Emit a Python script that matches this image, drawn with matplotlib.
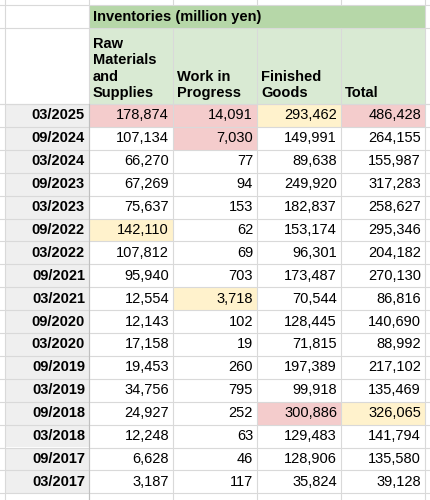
import matplotlib.pyplot as plt
from matplotlib.patches import Rectangle

plt.rcParams['font.family'] = ['Liberation Sans', 'DejaVu Sans']

periods = ["03/2025", "09/2024", "03/2024", "09/2023", "03/2023", "09/2022", "03/2022",
           "09/2021", "03/2021", "09/2020", "03/2020", "09/2019", "03/2019", "09/2018",
           "03/2018", "09/2017", "03/2017"]
raw = [178874, 107134, 66270, 67269, 75637, 142110, 107812, 95940, 12554, 12143, 17158,
       19453, 34756, 24927, 12248, 6628, 3187]
wip = [14091, 7030, 77, 94, 153, 62, 69, 703, 3718, 102, 19, 260, 795, 252, 63, 46, 117]
finished = [293462, 149991, 89638, 249920, 182837, 153174, 96301, 173487, 70544, 128445,
            71815, 197389, 99918, 300886, 129483, 128906, 35824]
total = [486428, 264155, 155987, 317283, 258627, 295346, 204182, 270130, 86816, 140690,
         88992, 217102, 135469, 326065, 141794, 135580, 39128]
headers = ["Raw\nMaterials\nand\nSupplies", "Work in\nProgress", "Finished\nGoods", "Total"]
title = "Inventories (million yen)"
# highlighted cells (row, column)
red_cells = [(0, 0), (0, 1), (0, 3), (1, 1), (13, 2)]
yellow_cells = [(0, 2), (5, 0), (8, 1), (13, 3)]

cols = [raw, wip, finished, total]
xs = [5, 89, 173, 257, 341, 425]
y_title = (5, 28)
y_head = (28, 104)
row_h = 22.9
y0 = 104

fig = plt.figure(figsize=(4.3, 5), dpi=100)
ax = fig.add_axes([0, 0, 1, 1])
ax.set_xlim(0, 430)
ax.set_ylim(500, 0)
ax.axis("off")

grid = "#d9d9d9"
fs = 10.5

def cell(x0, x1, ya, yb, color):
    ax.add_patch(Rectangle((x0, ya), x1 - x0, yb - ya, facecolor=color, edgecolor="none"))

# header backgrounds
cell(xs[1], xs[5], *y_title, "#b6d7a8")
cell(xs[1], xs[5], *y_head, "#d9ead3")
ax.text(xs[1] + 4, sum(y_title) / 2, title, fontsize=fs, fontweight="bold", va="center")
for j, h in enumerate(headers):
    ax.text(xs[j + 1] + 4, y_head[1] - 4, h, fontsize=fs, fontweight="bold", va="bottom",
            linespacing=1.22)

for i, p in enumerate(periods):
    ya = y0 + i * row_h
    yb = ya + row_h
    cell(xs[0], xs[1], ya, yb, "#efefef")
    ax.text(xs[1] - 4, (ya + yb) / 2, p, fontsize=fs, fontweight="bold", ha="right", va="center")
    for j, c in enumerate(cols):
        if (i, j) in red_cells:
            cell(xs[j + 1], xs[j + 2], ya, yb, "#f4cccc")
        elif (i, j) in yellow_cells:
            cell(xs[j + 1], xs[j + 2], ya, yb, "#fff2cc")
        ax.text(xs[j + 2] - 4, (ya + yb) / 2, f"{c[i]:,}", fontsize=fs, ha="right", va="center")

# gridlines
for y in [y_title[0], y_title[1], y_head[1]] + [y0 + k * row_h for k in range(len(periods) + 1)]:
    ax.plot([0, 430], [y, y], color=grid, lw=0.8)
for k, x in enumerate(xs):
    if 1 < k < 5:
        # merged title cell: no inner lines there
        ax.plot([x, x], [0, y_title[0]], color=grid, lw=0.8)
        ax.plot([x, x], [y_title[1], 500], color=grid, lw=0.8)
    else:
        ax.plot([x, x], [0, 500], color=grid, lw=0.8)
ax.plot([xs[1], xs[1]], [y0, 500], color="#c0c0c0", lw=0.8)

fig.savefig("out.png", dpi=100)
